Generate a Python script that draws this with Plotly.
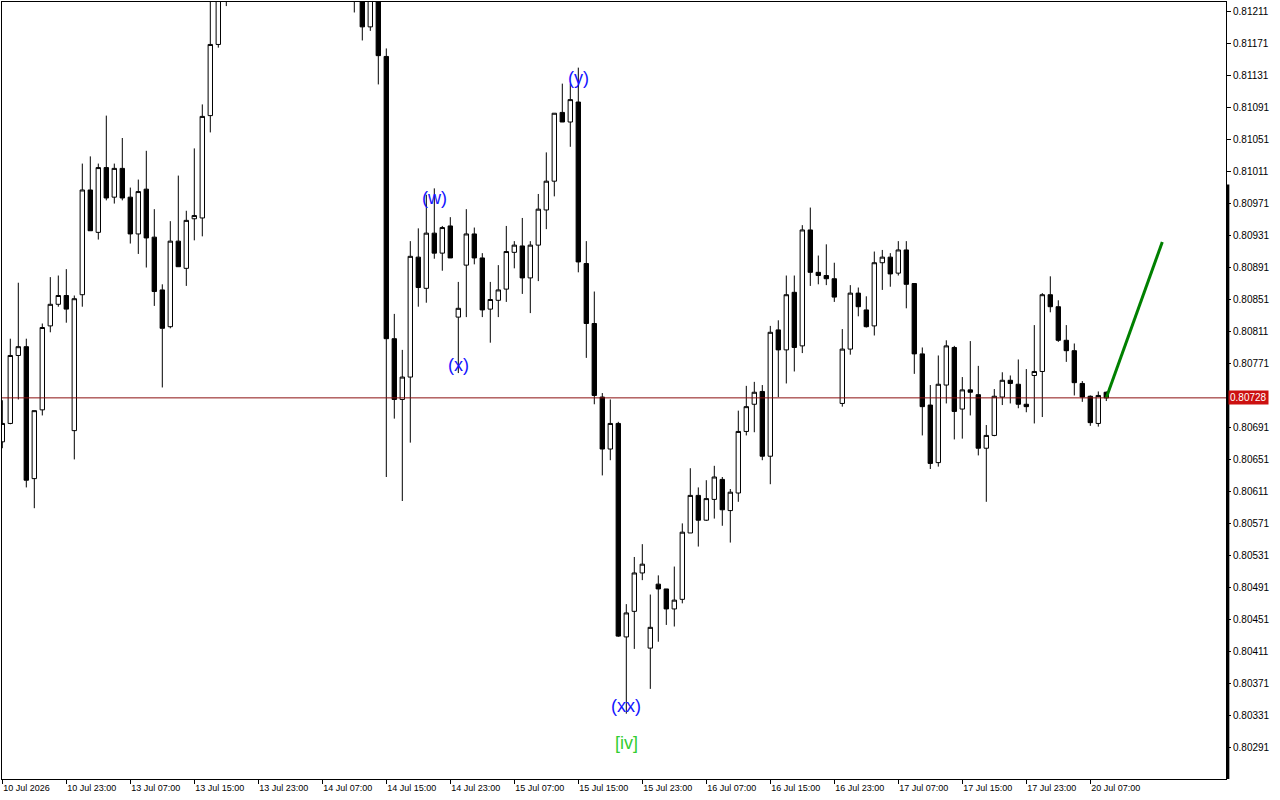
import plotly.graph_objects as go

# ---------------- data (H1 bars, 10 Jul 2026 15:00 ... 20 Jul 2026 09:00) ----------------
opens = [0.80673, 0.80696, 0.80781, 0.80792, 0.80627, 0.80713, 0.80818, 0.80845, 0.80856, 0.80687,
         0.80857, 0.80988, 0.80935, 0.81016, 0.80979, 0.81015, 0.80979, 0.80933, 0.80989, 0.80929,
         0.80863, 0.80817, 0.80924, 0.80890, 0.80952, 0.80953, 0.81081, 0.81170, 0.81248, 0.81265,
         0.81290, 0.81276, 0.81300, 0.81322, 0.81312, 0.81295, 0.81308, 0.81301, 0.81290, 0.81284,
         0.81275, 0.81270, 0.81256, 0.81262, 0.81248, 0.81236, 0.81192, 0.81235, 0.81155, 0.80802,
         0.80726, 0.80754, 0.80904, 0.80865, 0.80934, 0.80909, 0.80943, 0.80829, 0.80894, 0.80933,
         0.80903, 0.80839, 0.80850, 0.80864, 0.80910, 0.80918, 0.80878, 0.80919, 0.80963, 0.80999,
         0.81085, 0.81073, 0.81098, 0.80896, 0.80821, 0.80729, 0.80664, 0.80696, 0.80429, 0.80461,
         0.80509, 0.80415, 0.80495, 0.80489, 0.80464, 0.80476, 0.80559, 0.80606, 0.80575, 0.80601,
         0.80626, 0.80587, 0.80609, 0.80686, 0.80720, 0.80736, 0.80655, 0.80813, 0.80788, 0.80860,
         0.80793, 0.80938, 0.80885, 0.80881, 0.80877, 0.80721, 0.80789, 0.80859, 0.80838, 0.80818,
         0.80897, 0.80904, 0.80884, 0.80913, 0.80871, 0.80783, 0.80719, 0.80647, 0.80744, 0.80791,
         0.80714, 0.80738, 0.80732, 0.80665, 0.80681, 0.80729, 0.80750, 0.80745, 0.80720, 0.80756,
         0.80761, 0.80857, 0.80842, 0.80800, 0.80787, 0.80746, 0.80730, 0.80696, 0.80735]
highs = [0.80725, 0.80802, 0.80872, 0.80802, 0.80712, 0.80821, 0.80879, 0.80881, 0.80889, 0.80856,
         0.81021, 0.81030, 0.81021, 0.81081, 0.81021, 0.81053, 0.80991, 0.81001, 0.81037, 0.80964,
         0.80870, 0.80949, 0.81006, 0.80962, 0.81040, 0.81095, 0.81232, 0.81262, 0.81281, 0.81298,
         0.81312, 0.81305, 0.81335, 0.81341, 0.81330, 0.81318, 0.81326, 0.81315, 0.81306, 0.81297,
         0.81292, 0.81286, 0.81275, 0.81280, 0.81268, 0.81255, 0.81250, 0.81246, 0.81165, 0.80833,
         0.80788, 0.80924, 0.80940, 0.80982, 0.80990, 0.80943, 0.80954, 0.80873, 0.80964, 0.80941,
         0.80909, 0.80873, 0.80894, 0.80943, 0.80924, 0.80953, 0.80924, 0.80983, 0.81035, 0.81084,
         0.81121, 0.81121, 0.81141, 0.80924, 0.80861, 0.80734, 0.80726, 0.80698, 0.80470, 0.80529,
         0.80545, 0.80482, 0.80506, 0.80489, 0.80517, 0.80571, 0.80640, 0.80616, 0.80625, 0.80643,
         0.80629, 0.80614, 0.80712, 0.80743, 0.80748, 0.80744, 0.80818, 0.80825, 0.80881, 0.80881,
         0.80944, 0.80966, 0.80906, 0.80920, 0.80897, 0.80814, 0.80869, 0.80866, 0.80855, 0.80911,
         0.80913, 0.80909, 0.80924, 0.80924, 0.80871, 0.80791, 0.80744, 0.80781, 0.80800, 0.80793,
         0.80754, 0.80799, 0.80768, 0.80694, 0.80739, 0.80760, 0.80756, 0.80776, 0.80764, 0.80819,
         0.80859, 0.80880, 0.80850, 0.80819, 0.80796, 0.80749, 0.80731, 0.80736, 0.80736]
lows = [0.80665, 0.80695, 0.80726, 0.80616, 0.80590, 0.80706, 0.80810, 0.80842, 0.80822, 0.80651,
        0.80842, 0.80937, 0.80926, 0.80975, 0.80971, 0.80975, 0.80921, 0.80908, 0.80891, 0.80843,
        0.80741, 0.80815, 0.80892, 0.80868, 0.80925, 0.80930, 0.81060, 0.81166, 0.81218, 0.81252,
        0.81270, 0.81262, 0.81290, 0.81305, 0.81288, 0.81280, 0.81296, 0.81285, 0.81272, 0.81268,
        0.81258, 0.81250, 0.81240, 0.81238, 0.81210, 0.81175, 0.81187, 0.81120, 0.80629, 0.80702,
        0.80599, 0.80672, 0.80842, 0.80847, 0.80902, 0.80887, 0.80903, 0.80759, 0.80829, 0.80895,
        0.80829, 0.80797, 0.80829, 0.80848, 0.80890, 0.80858, 0.80834, 0.80874, 0.80939, 0.80980,
        0.81073, 0.81042, 0.80885, 0.80778, 0.80720, 0.80631, 0.80650, 0.80429, 0.80333, 0.80414,
        0.80500, 0.80364, 0.80423, 0.80444, 0.80442, 0.80471, 0.80559, 0.80542, 0.80574, 0.80577,
        0.80568, 0.80547, 0.80598, 0.80681, 0.80685, 0.80650, 0.80620, 0.80729, 0.80746, 0.80761,
        0.80784, 0.80868, 0.80870, 0.80869, 0.80848, 0.80717, 0.80782, 0.80830, 0.80816, 0.80806,
        0.80863, 0.80867, 0.80881, 0.80840, 0.80758, 0.80681, 0.80639, 0.80642, 0.80721, 0.80676,
        0.80677, 0.80706, 0.80656, 0.80598, 0.80680, 0.80719, 0.80721, 0.80715, 0.80710, 0.80696,
        0.80704, 0.80835, 0.80798, 0.80773, 0.80731, 0.80723, 0.80693, 0.80692, 0.80724]
closes = [0.80696, 0.80781, 0.80792, 0.80625, 0.80712, 0.80816, 0.80845, 0.80856, 0.80839, 0.80852,
          0.80988, 0.80937, 0.81016, 0.80978, 0.81015, 0.80978, 0.80933, 0.80986, 0.80928, 0.80861,
          0.80815, 0.80924, 0.80892, 0.80950, 0.80956, 0.81080, 0.81170, 0.81248, 0.81265, 0.81290,
          0.81276, 0.81300, 0.81322, 0.81312, 0.81295, 0.81308, 0.81301, 0.81290, 0.81284, 0.81275,
          0.81270, 0.81256, 0.81262, 0.81248, 0.81236, 0.81192, 0.81235, 0.81156, 0.80802, 0.80726,
          0.80754, 0.80905, 0.80866, 0.80934, 0.80909, 0.80941, 0.80903, 0.80840, 0.80933, 0.80903,
          0.80838, 0.80851, 0.80863, 0.80911, 0.80919, 0.80878, 0.80919, 0.80964, 0.80999, 0.81084,
          0.81073, 0.81101, 0.80898, 0.80821, 0.80731, 0.80664, 0.80696, 0.80430, 0.80459, 0.80509,
          0.80520, 0.80441, 0.80489, 0.80464, 0.80475, 0.80560, 0.80606, 0.80575, 0.80602, 0.80629,
          0.80588, 0.80610, 0.80686, 0.80717, 0.80735, 0.80655, 0.80810, 0.80788, 0.80857, 0.80791,
          0.80938, 0.80885, 0.80881, 0.80877, 0.80854, 0.80789, 0.80859, 0.80842, 0.80817, 0.80897,
          0.80904, 0.80883, 0.80913, 0.80870, 0.80783, 0.80717, 0.80646, 0.80745, 0.80793, 0.80711,
          0.80738, 0.80735, 0.80665, 0.80681, 0.80730, 0.80750, 0.80746, 0.80720, 0.80717, 0.80761,
          0.80857, 0.80842, 0.80800, 0.80787, 0.80747, 0.80729, 0.80697, 0.80731, 0.80728]

time_labels = ["10 Jul 2026", "10 Jul 23:00", "13 Jul 07:00", "13 Jul 15:00", "13 Jul 23:00",
               "14 Jul 07:00", "14 Jul 15:00", "14 Jul 23:00", "15 Jul 07:00", "15 Jul 15:00",
               "15 Jul 23:00", "16 Jul 07:00", "16 Jul 15:00", "16 Jul 23:00", "17 Jul 07:00",
               "17 Jul 15:00", "17 Jul 23:00", "20 Jul 07:00"]
bars_per_label = 8

price_ticks = [0.81211, 0.81171, 0.81131, 0.81091, 0.81051, 0.81011, 0.80971, 0.80931, 0.80891,
               0.80851, 0.80811, 0.80771, 0.80691, 0.80651, 0.80611, 0.80571, 0.80531, 0.80491,
               0.80451, 0.80411, 0.80371, 0.80331, 0.80291]

current_price = 0.80728

# Elliott wave labels: text, bar index, anchored at bar "high"/"low", colour
wave_labels = [("(w)", 54, "high", "#1414ff"),
               ("(x)", 57, "low", "#1414ff"),
               ("(y)", 72, "high", "#1414ff"),
               ("(xx)", 78, "low", "#1414ff"),
               ("[iv]", 78, "low", "#32cd32")]
label_shift = {"(w)": -10, "(x)": 8, "(y)": -10, "(xx)": 8, "[iv]": -29}

# projected move (green arrow line)
projection_bars = 7
projection_target = 0.80923

# ---------------- figure ----------------
n = len(closes)
bars = list(range(n))
y_lo, y_hi = 0.802513, 0.812231

fig = go.Figure()
fig.add_trace(go.Candlestick(
    x=bars, open=opens, high=highs, low=lows, close=closes,
    increasing=dict(line=dict(color="black", width=1), fillcolor="white"),
    decreasing=dict(line=dict(color="black", width=1), fillcolor="black"),
    whiskerwidth=0, showlegend=False, hoverinfo="skip",
))

last = n - 1
fig.add_trace(go.Scatter(
    x=[last, last + projection_bars], y=[closes[last], projection_target],
    mode="lines", line=dict(color="#008000", width=3), showlegend=False, hoverinfo="skip",
))

# current price line
fig.add_shape(type="line", xref="paper", x0=0, x1=1, yref="y", y0=current_price, y1=current_price,
              line=dict(color="#8c1010", width=1), layer="above")
# thick segment of the right scale border
fig.add_shape(type="line", xref="paper", x0=1.0015, x1=1.0015, yref="paper",
              y0=0, y1=(0.80995 - y_lo) / (y_hi - y_lo),
              line=dict(color="black", width=3), layer="above")

annotations = []
for text, idx, anchor, color in wave_labels:
    yv = highs[idx] if anchor == "high" else lows[idx]
    annotations.append(dict(x=idx, y=yv, xref="x", yref="y", text=text, showarrow=False,
                            xanchor="center", yanchor="middle", yshift=label_shift[text],
                            font=dict(family="Liberation Sans, Arial", size=18, color=color)))
annotations.append(dict(x=1, xref="paper", xanchor="left", xshift=2, y=current_price, yref="y",
                        yanchor="middle", text=f"{current_price:.5f}", showarrow=False,
                        bgcolor="#cc1010", borderpad=1,
                        font=dict(family="Liberation Sans, Arial", size=10, color="white")))

fig.update_layout(
    width=1280, height=800,
    margin=dict(l=2, r=54, t=2, b=21, pad=0),
    paper_bgcolor="white", plot_bgcolor="white",
    boxgap=0.26, boxgroupgap=0.26,
    showlegend=False,
    annotations=annotations,
    font=dict(family="Liberation Sans, Arial", size=9, color="black"),
)
fig.update_xaxes(
    range=[-0.0375, 152.9625], rangeslider=dict(visible=False),
    tickmode="array",
    tickvals=[i * bars_per_label for i in range(len(time_labels))],
    ticktext=time_labels, ticks="outside", ticklen=4, tickcolor="black", tickwidth=1,
    ticklabelposition="outside right",
    showgrid=False, zeroline=False, showline=True, linecolor="black", linewidth=1, mirror=True,
    tickfont=dict(family="Liberation Sans, Arial", size=9, color="black"),
    automargin=False, fixedrange=True,
)
fig.update_yaxes(
    range=[y_lo, y_hi], side="right", tickmode="array", tickvals=price_ticks,
    ticktext=[f"{v:.5f}" for v in price_ticks],
    ticks="outside", ticklen=4, tickcolor="black", tickwidth=1,
    showgrid=False, zeroline=False, showline=True, linecolor="black", linewidth=1, mirror=True,
    tickfont=dict(family="Liberation Sans, Arial", size=10, color="black"),
    automargin=False, fixedrange=True,
)

fig.write_html("out.html")
